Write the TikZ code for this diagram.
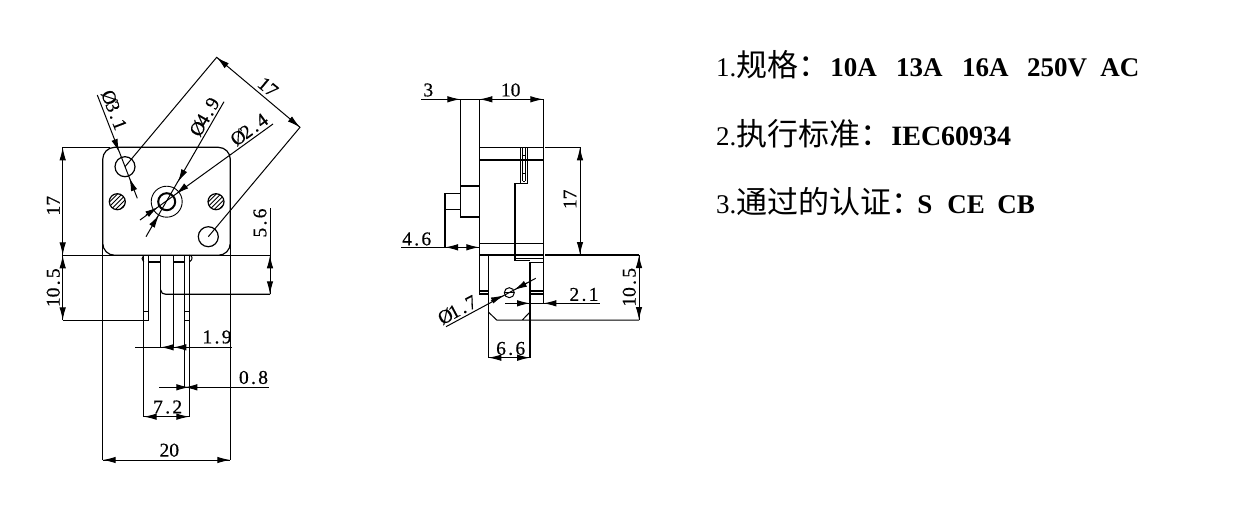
\documentclass[tikz,border=0pt]{standalone}
\usepackage{fontspec}
\setmainfont{Liberation Serif}
\newfontfamily\cjk{Noto Sans CJK SC}
\newfontfamily\dimf[FakeBold=0.5]{Liberation Serif}
\usetikzlibrary{arrows.meta}
\newcommand\pd{\makebox[9.5pt]{.}}
\newcommand\dz{\makebox[10pt]{Ø}}
\tikzset{
  ln/.style={line width=1.2pt,black},
  thinln/.style={line width=1pt,black},
  tipa/.style={line width=1pt,-{Latex[length=13pt,width=6.5pt]},black},
  dimtxt/.style={inner sep=0pt,font=\dimf\fontsize{19.5}{21}\selectfont},
  spec/.style={anchor=west,inner sep=0pt,font=\fontsize{27}{30}\selectfont},
}
\newcommand\ar[4]{\draw[tipa] (#1,#2) -- (#3,#4);}
\newcommand\hatched[2]{%
  \begin{scope}
    \clip (#1,#2) circle (8pt);
    \foreach \k in {-12,-7.5,-3,1.5,6,10.5}{
      \draw[line width=.8pt] (#1+\k-12,#2+12) -- (#1+\k+12,#2-12);
    }
  \end{scope}
  \draw[ln] (#1,#2) circle (8pt);
}
\newcommand\cn[1]{{\cjk\fontsize{31}{33}\selectfont #1}}
\newcommand\bb[2]{\makebox[#1pt][l]{\bfseries #2}}
\begin{document}
\begin{tikzpicture}[x=1pt,y=-1pt]
\useasboundingbox (0,0) rectangle (1255,522);
% --- front view: plate
\draw[ln,rounded corners=12pt] (102.7,200) -- (102.7,147.3) -- (230.3,147.3) -- (230.3,255.3) -- (102.7,255.3) -- cycle;
\draw[ln] (102.7,200) -- (102.7,460) (230.3,200) -- (230.3,460);
\draw[ln] (62.7,147.3) -- (110,147.3);
\draw[ln] (62.7,255.3) -- (160.7,255.3) (173.3,255.3) -- (270,255.3);
% holes
\draw[ln] (125,166.7) circle (10pt);
\draw[ln] (208.3,236.7) circle (10pt);
\draw[line width=.9pt] (166.7,201.7) circle (15.5pt);
\draw[line width=2pt] (166.7,201.7) circle (8.5pt);
\hatched{117.3}{201.7}
\hatched{216}{201.7}
% terminals
\draw[ln] (143.7,255.3) -- (143.7,416.7)
          (148.7,255.3) -- (148.7,320.3)
          (160.7,255.3) -- (160.7,347.3)
          (173.3,255.3) -- (173.3,347.3)
          (184.3,255.3) -- (184.3,387.3)
          (189.3,255.3) -- (189.3,416.7);
\draw[ln] (148.7,262) -- (160.7,262) (173.3,262) -- (184.3,262);
\draw[ln] (143.7,311.3) -- (148.7,311.3) (184.3,311.3) -- (189.3,311.3) (184.3,320.3) -- (189.3,320.3);
\draw[ln] (62.7,320.3) -- (148.7,320.3);
\draw[ln] (160.7,290) .. controls (161,293) and (163,294.3) .. (166,294.3) -- (173.3,294.3) -- (270,294.3);
\draw[thinln] (143.7,255.3) .. controls (141.5,257) and (141.5,260) .. (143.7,262);
\draw[thinln] (189.3,255.3) .. controls (193,255.3) and (193,260) .. (189.3,262);
% dims front
\draw[thinln] (62.7,147.3) -- (62.7,320.3);
\ar{62.7}{160}{62.7}{147.3} \ar{62.7}{242}{62.7}{255.3}
\ar{62.7}{268}{62.7}{255.3} \ar{62.7}{307}{62.7}{320.3}
\node[dimtxt,rotate=90] (t17a) at (53.3,205.7) {17};
\node[dimtxt,rotate=90] (t105a) at (53.3,287.7) {10\pd 5};
\draw[thinln] (270,208) -- (270,294.3);
\ar{270}{268}{270}{255.3} \ar{270}{281}{270}{294.3}
\node[dimtxt,rotate=90] (t56) at (260,223) {5\pd 6};
\draw[thinln] (135,347.3) -- (232,347.3);
\ar{174}{347.3}{160.7}{347.3} \ar{186}{347.3}{173.3}{347.3}
\node[dimtxt] (t19) at (217,337) {1\pd 9};
\draw[thinln] (159,387.3) -- (269,387.3);
\ar{197}{387.3}{184.3}{387.3} \ar{177}{387.3}{189.3}{387.3}
\node[dimtxt] (t08) at (253.5,377.5) {0\pd 8};
\draw[thinln] (143.7,416.7) -- (189.3,416.7);
\ar{156}{416.7}{143.7}{416.7} \ar{177}{416.7}{189.3}{416.7}
\node[dimtxt] (t72) at (167.7,407) {7\pd 2};
\draw[thinln] (102.7,460) -- (230.3,460);
\ar{116}{460}{102.7}{460} \ar{217}{460}{230.3}{460}
\node[dimtxt] (t20) at (169.3,450.2) {20};
% diagonal dims
\draw[thinln] (125,166.7) -- (216.7,57.3) -- (300,127.3) -- (208.3,236.7);
\ar{227}{66}{216.7}{57.3} \ar{290}{119}{300}{127.3}
\node[dimtxt,rotate=-40] (t17d) at (268,87) {17};
\draw[thinln] (97.3,95) -- (137.3,198.3);
\ar{115}{141}{119}{152} \ar{134}{190}{129.5}{178}
\node[dimtxt,rotate=-69] (t31) at (114.5,111) {\dz 3\pd 1};
\draw[thinln] (224,101.7) -- (146,236.7);
\ar{184}{171}{178}{182} \ar{152}{226}{159}{215}
\node[dimtxt,rotate=60] (t49) at (205,116) {\dz 4\pd 9};
\draw[thinln] (273,124) -- (140,220);
\ar{186}{186}{176}{194} \ar{146}{215}{158}{207}
\node[dimtxt,rotate=36] (t24) at (250,129) {\dz 2\pd 4};
% --- side view
\draw[ln] (479.3,99.3) -- (479.3,294) (543.3,99.3) -- (543.3,304);
\draw[ln] (479.3,147.3) -- (543.3,147.3) (545,147.3) -- (580,147.3);
\draw[ln] (479.3,160) -- (543.3,160) (479.3,243.3) -- (543.3,243.3);
\draw[ln] (479.3,255) -- (543.3,255) (545,255) -- (639,255);
\draw[ln] (515,183.3) -- (515,260.7) (515,183.3) -- (527.7,183.3);
\draw[ln] (520.3,147.3) -- (520.3,183.3) (527.7,147.3) -- (527.7,183.3);
\draw[thinln] (522.7,147.3) -- (522.7,181) (525,147.3) -- (525,181) (522.7,181) -- (525,181);
\draw[thinln] (522.7,155) -- (525,155) (522.7,160) -- (525,160) (522.7,173) -- (525,173);
% button
\draw[ln] (460.3,99.3) -- (460.3,217) -- (479.3,217) (460.3,186) -- (479.3,186);
\draw[ln] (460.3,193.3) -- (445,193.3) -- (445,247.3) (445,209.3) -- (460.3,209.3);
% lower part
\draw[ln] (515,258.3) -- (543.3,258.3) (515,260.7) -- (530,260.7) (530,262.3) -- (543.3,262.3);
\draw[ln] (488.3,255) -- (488.3,357.7) (530,262.3) -- (530,357.7);
\draw[ln] (479.3,291) -- (488.3,291) (479.3,294) -- (488.3,294);
\draw[ln] (530,291) -- (543.3,291) (530,294) -- (543.3,294);
\draw[thinln] (488.3,312) -- (496.7,320) -- (639,320) (530,312) -- (522.3,320);
\draw[thinln] (509.3,292.7) circle (5pt);
\draw[thinln] (504.3,292.7) -- (514.3,292.7);
% dims side
\draw[thinln] (421,99.3) -- (543.3,99.3);
\ar{448}{99.3}{460.3}{99.3} \ar{492}{99.3}{479.3}{99.3} \ar{531}{99.3}{543.3}{99.3}
\node[dimtxt] (t3) at (428.3,90) {3};
\node[dimtxt] (t10) at (510.7,90) {10};
\draw[thinln] (580,147.3) -- (580,255);
\ar{580}{160}{580}{147.3} \ar{580}{242}{580}{255}
\node[dimtxt,rotate=90] (t17s) at (570,199.3) {17};
\draw[thinln] (401,247.3) -- (479.3,247.3);
\ar{458}{247.3}{445}{247.3} \ar{467}{247.3}{479.3}{247.3}
\node[dimtxt] (t46) at (416.7,239) {4\pd 6};
\draw[thinln] (505,303.3) -- (600,303.3);
\ar{517}{303.3}{530}{303.3} \ar{556}{303.3}{543.3}{303.3}
\node[dimtxt] (t21) at (584,294.5) {2\pd 1};
\draw[thinln] (639,255) -- (639,320);
\ar{639}{268}{639}{255} \ar{639}{307}{639}{320};
\node[dimtxt,rotate=90] (t105b) at (629.3,287.3) {10\pd 5};
\draw[thinln] (446,326.7) -- (535.7,278.3);
\ar{491}{301}{504}{295.3} \ar{527}{283}{514}{290}
\node[dimtxt,rotate=28] (t17c) at (458.3,309.5) {\dz 1\pd 7};
\draw[thinln] (488.3,357.7) -- (530,357.7);
\ar{500}{357.7}{488.3}{357.7} \ar{518}{357.7}{530}{357.7}
\node[dimtxt] (t66) at (510.7,348.5) {6\pd 6};
% --- spec text
\node[spec] (s1) at (716,65) {1.\cn{规格：}\hspace{1pt}\bb{65.7}{10A}\bb{66}{13A}\bb{65}{16A}\bb{73.3}{250V}\bb{40}{AC}};
\node[spec] (s2) at (716,134) {2.\cn{执行标准：}{\fontsize{28}{30}\selectfont\textbf{IEC60934}}};
\node[spec] (s3) at (716,201.3) {3.\cn{通过的认证：}\hspace{-5pt}\bb{30}{S}\bb{50}{CE}\bb{40}{CB}};
\end{tikzpicture}
\end{document}
